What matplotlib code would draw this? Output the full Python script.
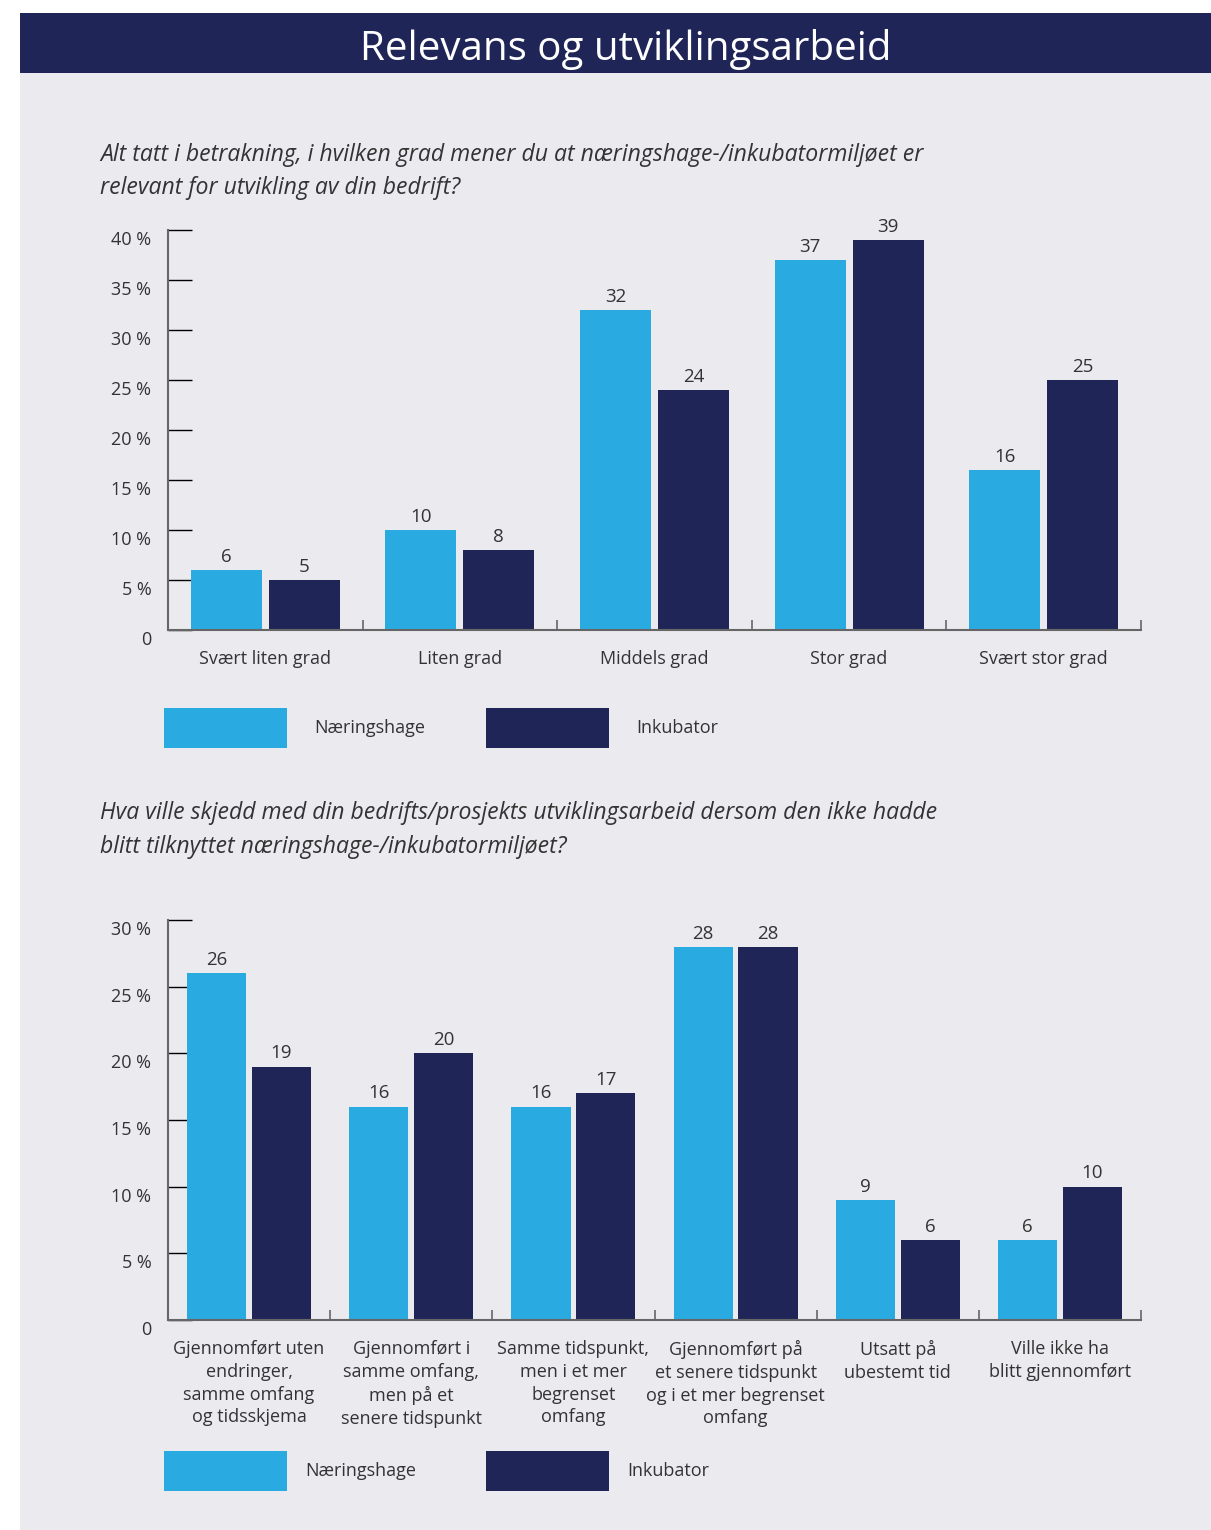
import matplotlib
matplotlib.use('Agg')
import matplotlib.pyplot as plt
from matplotlib.patches import Rectangle
import matplotlib.transforms as mtransforms

plt.rcParams['font.family'] = ['Open Sans', 'DejaVu Sans']

# ===== DADOS =====
series = ['Næringshage', 'Inkubator']

kat_relevans = ['Svært liten grad', 'Liten grad', 'Middels grad',
                'Stor grad', 'Svært stor grad']
naering_relevans = [6, 10, 32, 37, 16]
inkub_relevans = [5, 8, 24, 39, 25]
yticks_relevans = [0, 5, 10, 15, 20, 25, 30, 35, 40]

kat_utvikling = ['Gjennomført uten\nendringer,\nsamme omfang\nog tidsskjema',
                 'Gjennomført i\nsamme omfang,\nmen på et\nsenere tidspunkt',
                 'Samme tidspunkt,\nmen i et mer\nbegrenset\nomfang',
                 'Gjennomført på\net senere tidspunkt\nog i et mer begrenset\nomfang',
                 'Utsatt på\nubestemt tid',
                 'Ville ikke ha\nblitt gjennomført']
naering_utvikling = [26, 16, 16, 28, 9, 6]
inkub_utvikling = [19, 20, 17, 28, 6, 10]
yticks_utvikling = [0, 5, 10, 15, 20, 25, 30]

sporsmal_1 = ['Alt tatt i betrakning, i hvilken grad mener du at næringshage-/inkubatormiljøet er',
              'relevant for utvikling av din bedrift?']
sporsmal_2 = ['Hva ville skjedd med din bedrifts/prosjekts utviklingsarbeid dersom den ikke hadde',
              'blitt tilknyttet næringshage-/inkubatormiljøet?']

# ===== FARGER =====
lysblaa = '#29abe2'
marine = '#1f2657'
bakgrunn = '#ebeaef'
tekst = '#333333'

W, H = 1211, 1530
fig = plt.figure(figsize=(W / 100, H / 100), dpi=100, facecolor='white')

# bakgrunnspanel og toppbanner (pikselkoordinater)
px = mtransforms.Affine2D().scale(1 / W, 1 / H) + fig.transFigure
fig.patches.append(Rectangle((20, 0), W - 20, H - 73, transform=px,
                             facecolor=bakgrunn, edgecolor='none', zorder=-2))
fig.patches.append(Rectangle((20, H - 73), W - 20, 60, transform=px,
                             facecolor=marine, edgecolor='none', zorder=-2))
fig.text(626 / W, 1 - 49 / H, 'Relevans og utviklingsarbeid', color='white',
         fontsize=29, ha='center', va='center')


def tegn_diagram(rect, kategorier, v1, v2, yticks, ymax, legend_y, textpad):
    ax = fig.add_axes(rect)
    ax.set_facecolor('none')
    x = list(range(len(kategorier)))
    b = 0.365
    s1 = ax.bar([i - 0.2 for i in x], v1, width=b, color=lysblaa, label=series[0], zorder=2)
    s2 = ax.bar([i + 0.2 for i in x], v2, width=b, color=marine, label=series[1], zorder=2)
    for bars, vals in ((s1, v1), (s2, v2)):
        for bar, v in zip(bars, vals):
            ax.annotate(str(v), (bar.get_x() + bar.get_width() / 2, v),
                        xytext=(0, 3), textcoords='offset points',
                        ha='center', va='bottom', fontsize=13.5, color=tekst)

    ax.set_xlim(-0.5, len(kategorier) - 0.5)
    ax.set_ylim(0, ymax)
    ax.set_yticks(yticks)
    ax.set_yticklabels(['0' if t == 0 else f'{t} %' for t in yticks])
    ax.tick_params(axis='y', direction='in', length=17, width=1, color='black',
                   labelsize=13, labelcolor=tekst, pad=12)
    # flytt etikettene litt ned
    off = mtransforms.ScaledTranslation(0, -8 / 100, fig.dpi_scale_trans)
    for lab in ax.get_yticklabels():
        lab.set_transform(lab.get_transform() + off)

    # kategorigrenser som små ticks langs x-aksen
    ax.set_xticks([i + 0.5 for i in x])
    ax.set_xticklabels([])
    ax.tick_params(axis='x', direction='in', length=7, width=1.2, color='#666666')

    # kategori-etiketter under aksen
    ned = mtransforms.ScaledTranslation(0, -20 / 100, fig.dpi_scale_trans)
    for i, k in enumerate(kategorier):
        ax.text(i, 0, k, transform=ax.get_xaxis_transform() + ned,
                ha='center', va='top', fontsize=13, color=tekst, linespacing=1.34)

    for side in ('top', 'right'):
        ax.spines[side].set_visible(False)
    for side in ('left', 'bottom'):
        ax.spines[side].set_color('#666666')
        ax.spines[side].set_linewidth(1.5)

    ax.legend(loc='upper left', bbox_to_anchor=(164 / W, legend_y),
              bbox_transform=fig.transFigure, ncol=2, frameon=False,
              fontsize=13, labelcolor=tekst, handlelength=6.8, handleheight=3.0,
              handletextpad=textpad, columnspacing=3.4 + (1.5 - textpad),
              borderpad=0, borderaxespad=0)
    return ax


ax1 = tegn_diagram([168 / W, 1 - 630 / H, 973 / W, 400 / H], kat_relevans,
                   naering_relevans, inkub_relevans, yticks_relevans, 40, 1 - 708 / H, 1.5)
ax2 = tegn_diagram([168 / W, 1 - 1320 / H, 973 / W, 400 / H], kat_utvikling,
                   naering_utvikling, inkub_utvikling, yticks_utvikling, 30, 1 - 1451 / H, 1.0)

for y, linje in zip((155, 188), sporsmal_1):
    fig.text(100 / W, 1 - y / H, linje, fontsize=16.6, style='italic',
             color=tekst, ha='left', va='center')
for y, linje in zip((813, 847), sporsmal_2):
    fig.text(100 / W, 1 - y / H, linje, fontsize=16.6, style='italic',
             color=tekst, ha='left', va='center')

fig.savefig('out.png', dpi=100, facecolor=fig.get_facecolor())
